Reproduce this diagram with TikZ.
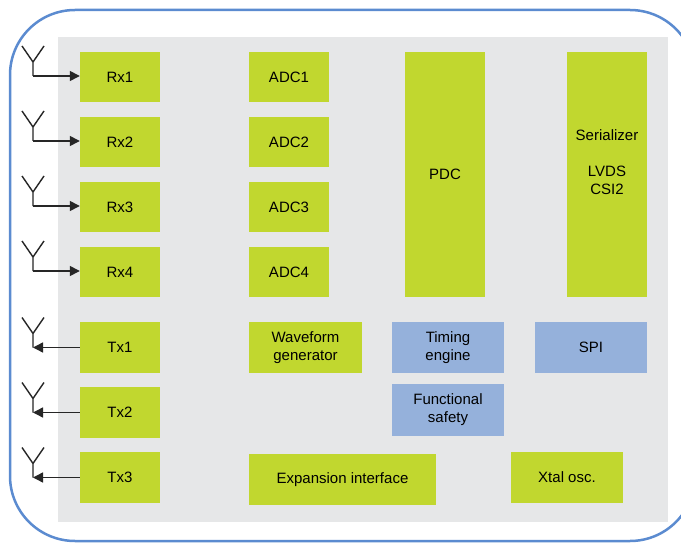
\documentclass[tikz,border=0pt]{standalone}
\usepackage{fontspec}
\setmainfont{Liberation Sans}
\usetikzlibrary{arrows.meta}
\definecolor{boxgreen}{HTML}{C1D72F}
\definecolor{boxblue}{HTML}{95B1DB}
\definecolor{bggray}{HTML}{E6E7E8}
\definecolor{frameblue}{HTML}{5B8BD0}
\begin{document}
\begin{tikzpicture}[x=1pt,y=-1pt,
 blk/.style={rectangle,inner sep=0pt,align=center,font=\fontsize{15}{18}\selectfont},
 gbox/.style={blk,fill=boxgreen},
 bbox/.style={blk,fill=boxblue},
 small/.style={minimum width=80pt,minimum height=50pt},
 wide/.style={minimum width=112pt,minimum height=51pt},
 ant/.style={draw=black!85,line width=1.4pt},
 sig/.style={draw=black!85,line width=1.4pt,-{Triangle[length=10pt,width=10pt]}}]
\useasboundingbox (0,0) rectangle (681,543);
\clip (0,0) rectangle (681,543);
\fill[white] (0,0) rectangle (681,543);
\draw[frameblue,line width=2.5pt,rounded corners=65pt] (10,10) rectangle (695,541);
\fill[bggray] (58,37) rectangle (668,522);
% Rx and ADC rows
\foreach \i/\c in {1/77,2/142,3/207,4/272}{
  \node[gbox,small] (rx\i) at (120,\c) {Rx\i};
  \node[gbox,small] (adc\i) at (289,\c) {ADC\i};
  \coordinate (ra\i) at (33,\c-1);
  \draw[ant] (22,\c-31) -- (33,\c-15) -- (44,\c-31) (33,\c-15) -- (ra\i);
  \draw[sig] (ra\i) -- (ra\i -| rx\i.west);
}
% Tx rows
\foreach \i/\c in {1/347.5,2/412.5,3/477.5}{
  \node[gbox,minimum width=80pt,minimum height=51pt] (tx\i) at (120,\c) {Tx\i};
  \coordinate (ta\i) at (33,\c);
  \draw[ant] (22,\c-30) -- (33,\c-14) -- (44,\c-30) (33,\c-14) -- (ta\i);
  \draw[sig] (tx\i.west) -- (ta\i);
}
\node[gbox,minimum width=80pt,minimum height=245pt] (pdc) at (445,174.5) {PDC};
\node[gbox,minimum width=80pt,minimum height=245pt] (ser) at (607,174.5) {Serializer\\\mbox{}\\LVDS\\CSI2\\[6pt]\mbox{}};
\node[gbox,minimum width=113pt,minimum height=51pt] (wave) at (305.5,347.5) {Waveform\\generator};
\node[bbox,wide] (timing) at (448,347.5) {Timing\\engine};
\node[bbox,wide] (spi) at (591,347.5) {SPI};
\node[bbox,minimum width=112pt,minimum height=52pt] (fsafe) at (448,410) {Functional\\safety};
\node[gbox,minimum width=187pt,minimum height=51pt] (exp) at (342.5,479.5) {Expansion interface};
\node[gbox,wide] (xtal) at (567,477.5) {Xtal osc.};
\end{tikzpicture}
\end{document}
